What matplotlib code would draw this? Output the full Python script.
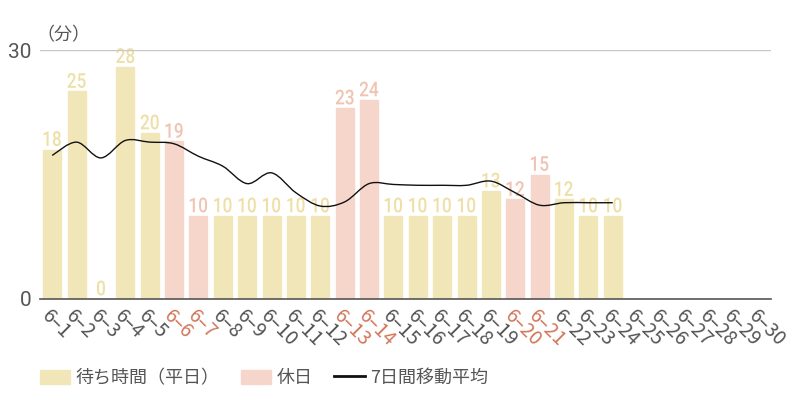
import numpy as np
import matplotlib
matplotlib.use('Agg')
import matplotlib.pyplot as plt
from matplotlib.path import Path
from matplotlib.patches import PathPatch, Patch
from matplotlib.lines import Line2D
from matplotlib.textpath import TextPath
from matplotlib.font_manager import FontProperties
from matplotlib.transforms import Affine2D, ScaledTranslation

plt.rcParams['font.family'] = ['Noto Sans CJK JP', 'DejaVu Sans']

# データ
days = [f'6-{d}' for d in range(1, 31)]
wait = [18, 25, 0, 28, 20, 19, 10, 10, 10, 10, 10, 10, 23, 24, 10,
        10, 10, 10, 13, 12, 15, 12, 10, 10]
holidays = ['6-6', '6-7', '6-13', '6-14', '6-20', '6-21']
ma7 = [17.3, 18.9, 17.0, 19.1, 18.9, 18.7, 17.2, 16.0, 13.9, 15.2, 12.8, 11.2,
       11.7, 13.9, 13.8, 13.7, 13.7, 13.7, 14.2, 12.8, 11.3, 11.6, 11.6, 11.6]

c_week = '#f1e6b8'
c_week_lbl = '#eedfa6'
c_hol = '#f6d5ca'
c_hol_lbl = '#f0c3b2'
c_hol_tick = '#d2775b'
c_text = '#555555'

fig = plt.figure(figsize=(8, 4), dpi=100)
ax = fig.add_axes([0.05, 0.2525, 0.914, 0.6225])

# 数字ラベル用：Roboto を横方向に縮めて condensed 風にする
num_prop = FontProperties(family='Roboto', weight='medium')


def condensed_label(xv, yv, s, color, size_px=20.5, sx=0.84, pad_px=3.5):
    tp = TextPath((0, 0), s, size=size_px, prop=num_prop)
    ext = tp.get_extents()
    cx = (ext.x0 + ext.x1) / 2
    tr = (Affine2D().translate(-cx, -ext.y0).scale(sx, 1).translate(0, pad_px)
          + ScaledTranslation(xv, yv, ax.transData))
    ax.add_patch(PathPatch(tp, transform=tr, facecolor=color,
                           edgecolor='none', clip_on=False))


x = np.arange(len(days))
for i, v in enumerate(wait):
    hol = days[i] in holidays
    col = c_hol if hol else c_week
    ax.bar(x[i], v, width=0.74, color=col, edgecolor=col, linewidth=1)
    condensed_label(x[i], v, str(v), c_hol_lbl if hol else c_week_lbl)


# 移動平均は滑らかな曲線で描く (Catmull-Rom -> Bezier)
def smooth_path(xs, ys):
    pts = np.column_stack([xs, ys])
    verts = [pts[0]]
    codes = [Path.MOVETO]
    for k in range(len(pts) - 1):
        p0 = pts[k - 1] if k > 0 else pts[k]
        p1 = pts[k]
        p2 = pts[k + 1]
        p3 = pts[k + 2] if k + 2 < len(pts) else pts[k + 1]
        verts += [p1 + (p2 - p0) / 6, p2 - (p3 - p1) / 6, p2]
        codes += [Path.CURVE4] * 3
    return Path(verts, codes)


ax.add_patch(PathPatch(smooth_path(x[:len(ma7)], ma7), fill=False,
                       edgecolor='#111111', linewidth=1))

ax.set_xlim(-0.5, len(days) - 0.5)
ax.set_ylim(0, 30)
ax.set_yticks([0, 30])
ax.set_yticklabels(['0', '30'], family='Roboto', fontsize=15, color=c_text)
ax.axhline(30, color='#c8c8c8', linewidth=1)
ax.set_xticks(x)
ax.set_xticklabels([d.replace('-', '–') for d in days], rotation=-45,
                   ha='left', va='top', rotation_mode='anchor', fontsize=14)
shift = ScaledTranslation(3 / 72, 0, fig.dpi_scale_trans)
for d, lbl in zip(days, ax.get_xticklabels()):
    lbl.set_color(c_hol_tick if d in holidays else c_text)
    lbl.set_transform(lbl.get_transform() + shift)
ax.tick_params(length=0, pad=6)
ax.tick_params(axis='x', pad=5)
for s in ['top', 'right', 'left']:
    ax.spines[s].set_visible(False)
ax.spines['bottom'].set_color('#555555')
ax.spines['bottom'].set_linewidth(1.2)

fig.text(0.045, 1 - 35 / 400, '（分）', ha='left', va='center',
         fontsize=13, color=c_text)

handles = [Patch(color=c_week), Patch(color=c_hol),
           Line2D([], [], color='#111111', linewidth=2)]
names = ['待ち時間（平日）', '休日', '7日間移動平均']
leg = fig.legend(handles, names, loc='center left', bbox_to_anchor=(0.05, 0.055),
                 ncol=3, frameon=False, fontsize=13, handlelength=1.67,
                 handleheight=0.78, handletextpad=0.3, columnspacing=1.2,
                 borderpad=0, borderaxespad=0)
for t in leg.get_texts():
    t.set_color(c_text)

fig.savefig('out.png', dpi=100)
